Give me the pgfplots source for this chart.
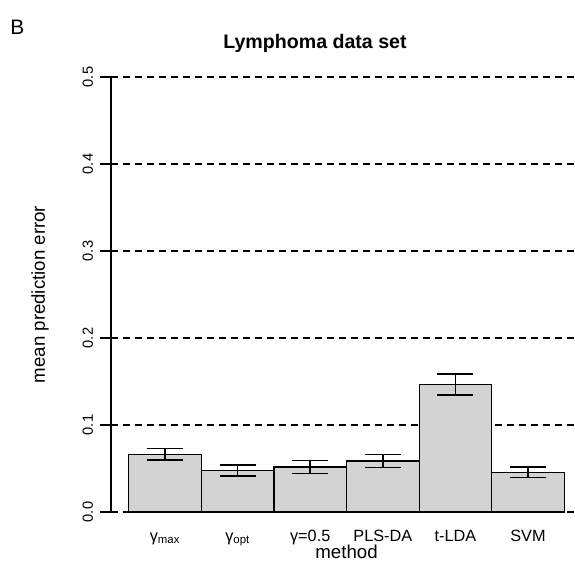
\documentclass[border=0pt]{standalone}
\usepackage{fontspec}
\setmainfont{Liberation Sans}
\usepackage{pgfplots}
\pgfplotsset{compat=1.18}
\definecolor{barfill}{RGB}{211,211,211}

\begin{document}
\begin{tikzpicture}
% picture frame (1 px of the reference = 0.75pt)
\useasboundingbox (-83.25pt,-36.75pt) rectangle (348pt,384pt);
\begin{axis}[
    at={(0,0)}, anchor=south west,
    scale only axis,
    width=348pt, height=326.25pt,
    xmin=-0.744, xmax=5.647,
    ymin=0, ymax=0.5,
    axis y line*=left,
    axis x line*=bottom,
    x axis line style={draw=none},
    y axis line style={line width=1pt},
    xtick={0,1,2,3,4,5},
    xticklabels={γ\textsubscript{max}, γ\textsubscript{opt}, γ=0.5, PLS-DA, t-LDA, SVM},
    xtick style={draw=none},
    xticklabel style={font=\fontsize{12.2}{14}\selectfont, anchor=base, yshift=-14pt},
    ytick={0,0.1,0.2,0.3,0.4,0.5},
    yticklabel style={font=\fontsize{11}{13}\selectfont, xshift=-5.5pt, rotate=90, anchor=base},
    /pgf/number format/assume math mode=true,
    /pgf/number format/fixed, /pgf/number format/fixed zerofill,
    /pgf/number format/precision=1,
    tick align=outside,
    major tick length=8pt,
    ytick style={line width=1pt, black},
    ymajorgrids=true,
    grid style={black, line width=1pt, dash pattern=on 5.25pt off 3.75pt},
    xlabel={method},
    xlabel style={font=\fontsize{14}{16}\selectfont, at={(axis cs:2.5,0)}, anchor=base, yshift=-35pt},
    ylabel={mean prediction error},
    ylabel style={font=\fontsize{14}{16}\selectfont, at={(axis description cs:-0.153,0.5)}, anchor=center},
    clip=false,
]
\addplot[ybar, bar width=1, fill=barfill, draw=black, line width=0.9pt,
    error bars/.cd, y dir=both, y explicit,
    error bar style={line width=1.1pt, black},
    error mark options={rotate=90, line width=1.1pt, mark size=13.5pt, black}]
coordinates {
    (0,0.0663) +- (0,0.0067)
    (1,0.0475) +- (0,0.0063)
    (2,0.0517) +- (0,0.0073)
    (3,0.0586) +- (0,0.0075)
    (4,0.1467) +- (0,0.0120)
    (5,0.0456) +- (0,0.0060)
};
\end{axis}
\node[anchor=base, font=\fontsize{14.7}{17}\selectfont\bfseries] at (153pt,347.8pt) {Lymphoma data set};
\node[anchor=base west, inner sep=0pt, font=\fontsize{15.7}{18}\selectfont] at (-75.75pt,357.75pt) {B};
\end{tikzpicture}
\end{document}
